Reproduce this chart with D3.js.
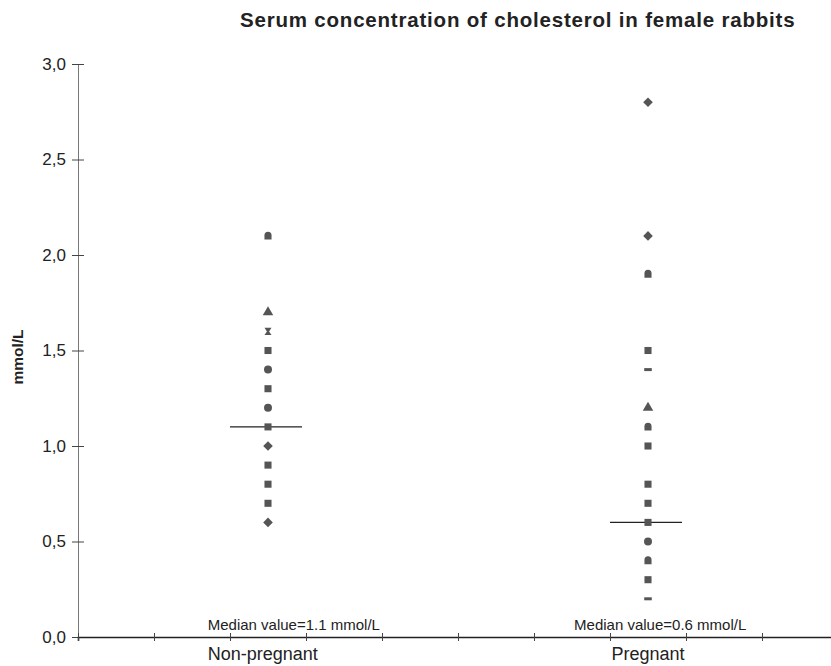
<!DOCTYPE html>
<html>
<head>
<meta charset="utf-8">
<script src="https://cdn.jsdelivr.net/npm/d3@7"></script>
<style>
  body { margin: 0; background: #fff; }
  text { font-family: "Liberation Sans", Arial, sans-serif; fill: #222; }
</style>
</head>
<body>
<svg id="chart" width="831" height="666"></svg>
<script>
// groups
const categories = ["Non-pregnant", "Pregnant"];
const medianLabels = ["Median value=1.1 mmol/L", "Median value=0.6 mmol/L"];
const medians = [1.1, 0.6];

// values, one array per group
const nonPregnant = [2.1, 1.7, 1.6, 1.5, 1.4, 1.3, 1.2, 1.1, 1.0, 0.9, 0.8, 0.7, 0.6];
const nonPregnantShapes = ["dome", "triangle", "hourglass", "square", "circle", "square", "circle", "square", "diamond", "square", "square", "square", "diamond"];
const pregnant = [2.8, 2.1, 1.9, 1.5, 1.4, 1.2, 1.1, 1.0, 0.8, 0.7, 0.6, 0.5, 0.4, 0.3, 0.2];
const pregnantShapes = ["diamond", "diamond", "dome", "square", "dash", "triangle", "dome", "square", "square", "square", "square", "circle", "dome", "square", "dash"];

const yTicks = [0, 0.5, 1.0, 1.5, 2.0, 2.5, 3.0];

const svg = d3.select("#chart");

// layout
const mLeft = 78, mBottom = 637, mTop = 64, mRight = 838;
const x = d3.scaleLinear().domain([0, 10]).range([mLeft, mRight]);
const y = d3.scaleLinear().domain([0, 3]).range([mBottom, mTop]);

// category slots on the x scale
const pointX = [2.5, 7.5];
const labelX = [2.43, 7.5];
const medianTextX = [2.84, 7.66];

// title
svg.append("text")
  .attr("x", 240).attr("y", 27)
  .style("font-size", "20.5px").style("font-weight", "bold")
  .style("letter-spacing", "0.8px")
  .text("Serum concentration of cholesterol in female rabbits");

// y axis
const yAxis = svg.append("g")
  .attr("transform", `translate(${mLeft},0)`)
  .call(d3.axisLeft(y).tickValues(yTicks).tickSize(6)
    .tickFormat(d => d3.format(".1f")(d).replace(".", ",")));
yAxis.select(".domain").attr("stroke", "#777");
yAxis.selectAll(".tick line").attr("x2", 6).attr("x1", -6).attr("stroke", "#444");
yAxis.selectAll(".tick text").style("font-size", "17px").attr("fill", "#222").attr("x", -12);

svg.append("text")
  .attr("transform", `translate(23,357) rotate(-90)`)
  .attr("text-anchor", "middle")
  .style("font-size", "15.5px").style("font-weight", "bold")
  .text("mmol/L");

// x axis
const xAxis = svg.append("g")
  .attr("transform", `translate(0,${mBottom})`)
  .call(d3.axisBottom(x).ticks(10).tickSize(4).tickFormat(""));
xAxis.select(".domain").attr("stroke", "#222").attr("stroke-width", 1.6);
xAxis.selectAll(".tick line").attr("y1", -4).attr("y2", 4).attr("stroke", "#444");

svg.selectAll(".cat")
  .data(categories)
  .join("text")
  .attr("x", (d, i) => x(labelX[i]))
  .attr("y", 660)
  .attr("text-anchor", "middle")
  .style("font-size", "18px")
  .text(d => d);

svg.selectAll(".med")
  .data(medianLabels)
  .join("text")
  .attr("x", (d, i) => x(medianTextX[i]))
  .attr("y", 630)
  .attr("text-anchor", "middle")
  .style("font-size", "15px")
  .text(d => d);

// marker shapes
const dash = { draw(ctx, size) { const w = Math.sqrt(size) * 1.2; ctx.rect(-w / 2, -1.5, w, 3); } };
const diamond = {
  draw(ctx, size) {
    const r = Math.sqrt(size) * 0.62;
    ctx.moveTo(0, -r); ctx.lineTo(r, 0); ctx.lineTo(0, r); ctx.lineTo(-r, 0); ctx.closePath();
  }
};
const dome = {
  draw(ctx, size) {
    const w = Math.sqrt(size) / 2;
    ctx.moveTo(-w, w); ctx.lineTo(-w, -w * 0.2);
    ctx.arc(0, -w * 0.2, w, Math.PI, 0); ctx.lineTo(w, w); ctx.closePath();
  }
};
const hourglass = {
  draw(ctx, size) {
    const w = Math.sqrt(size) / 2;
    ctx.moveTo(-w, -w); ctx.lineTo(w, -w); ctx.lineTo(w * 0.3, 0); ctx.lineTo(w, w);
    ctx.lineTo(-w, w); ctx.lineTo(-w * 0.3, 0); ctx.closePath();
  }
};
const shapeTypes = {
  square: [d3.symbolSquare, 50],
  diamond: [diamond, 60],
  circle: [d3.symbolCircle, 50],
  triangle: [d3.symbolTriangle, 48],
  dome: [dome, 50],
  dash: [dash, 40],
  hourglass: [hourglass, 50]
};

const groups = [
  nonPregnant.map((v, i) => ({ v, shape: nonPregnantShapes[i] })),
  pregnant.map((v, i) => ({ v, shape: pregnantShapes[i] }))
];

groups.forEach((pts, gi) => {
  // median line
  svg.append("line")
    .attr("x1", x(pointX[gi]) - 38).attr("x2", x(pointX[gi]) + 34)
    .attr("y1", y(medians[gi])).attr("y2", y(medians[gi]))
    .attr("stroke", "#222").attr("stroke-width", 1.2);

  svg.append("g").selectAll("path")
    .data(pts)
    .join("path")
    .attr("transform", d => `translate(${x(pointX[gi])},${y(d.v)})`)
    .attr("d", d => d3.symbol().type(shapeTypes[d.shape][0]).size(shapeTypes[d.shape][1])())
    .attr("fill", "#555");
});
</script>
</body>
</html>
